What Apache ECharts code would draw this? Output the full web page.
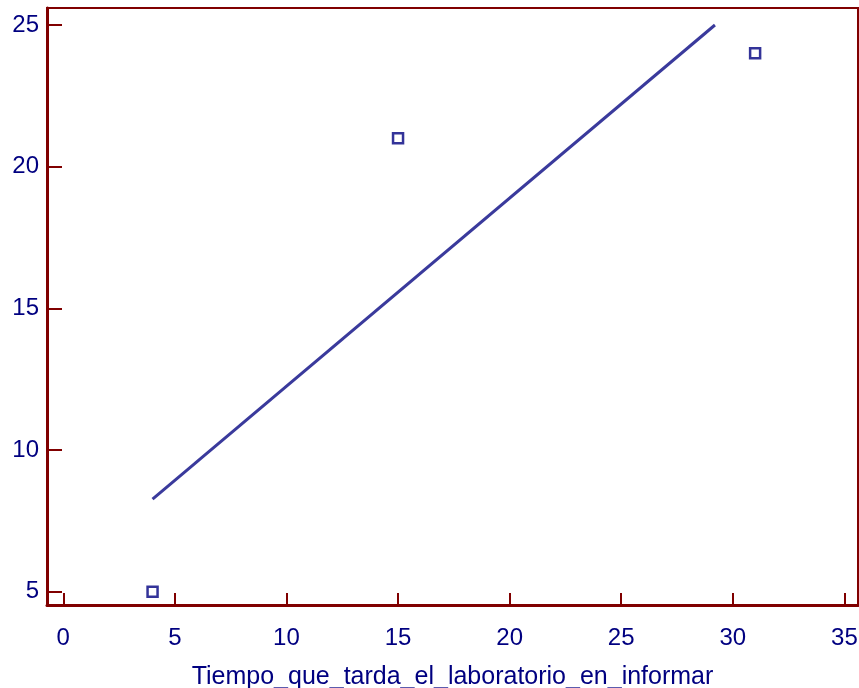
<!DOCTYPE html>
<html>
<head>
<meta charset="utf-8">
<script src="https://cdn.jsdelivr.net/npm/echarts@6/dist/echarts.min.js"></script>
<style>
  html, body { margin: 0; padding: 0; background: #fff; }
  #main { width: 859px; height: 688px; }
</style>
</head>
<body>
<div id="main"></div>
<script>
// observed points
var pointsX = [4, 15, 31]
var pointsY = [5, 21, 24]
// fitted line end points
var lineX = [4, 29.2]
var lineY = [8.27, 25]
var xTicks = [0, 5, 10, 15, 20, 25, 30, 35]
var yTicks = [5, 10, 15, 20, 25]
var xName = 'Tiempo_que_tarda_el_laboratorio_en_informar'

var axisColor = '#800000'
var textColor = '#000080'

let myChart = echarts.init(document.getElementById('main'))
myChart.setOption({
  backgroundColor: '#fff',
  animation: false,
  grid: {
    left: 47,
    right: 1,
    top: 8,
    bottom: 83,
    outerBoundsMode: 'none',
    show: true,
    borderColor: axisColor,
    borderWidth: 2
  },
  xAxis: {
    type: 'value',
    min: -0.73,
    max: 35.61,
    name: xName,
    nameLocation: 'middle',
    nameGap: 60,
    nameTextStyle: { color: textColor, fontSize: 25, fontFamily: 'Liberation Sans' },
    splitLine: { show: false },
    axisLine: { show: true, onZero: false, lineStyle: { color: axisColor, width: 3 } },
    axisTick: {
      show: true,
      inside: true,
      length: 12,
      customValues: xTicks,
      lineStyle: { color: axisColor, width: 2 }
    },
    axisLabel: {
      customValues: xTicks,
      color: textColor,
      fontSize: 24,
      fontFamily: 'Liberation Sans',
      margin: 21
    }
  },
  yAxis: {
    type: 'value',
    min: 4.53,
    max: 25.6,
    splitLine: { show: false },
    axisLine: { show: true, onZero: false, lineStyle: { color: axisColor, width: 3 } },
    axisTick: {
      show: true,
      inside: true,
      length: 15,
      customValues: yTicks,
      lineStyle: { color: axisColor, width: 2 }
    },
    axisLabel: {
      customValues: yTicks,
      color: textColor,
      fontSize: 24,
      fontFamily: 'Liberation Sans',
      margin: 8
    }
  },
  series: [
    {
      type: 'line',
      data: lineX.map(function (x, i) { return [x, lineY[i]] }),
      showSymbol: false,
      lineStyle: { color: '#3a3a9c', width: 3 },
      silent: true
    },
    {
      type: 'scatter',
      data: pointsX.map(function (x, i) { return [x, pointsY[i]] }),
      symbol: 'rect',
      symbolSize: 10,
      itemStyle: { color: '#fff', borderColor: textColor, borderWidth: 2.5 }
    }
  ]
})
window.onresize = myChart.resize
</script>
</body>
</html>
